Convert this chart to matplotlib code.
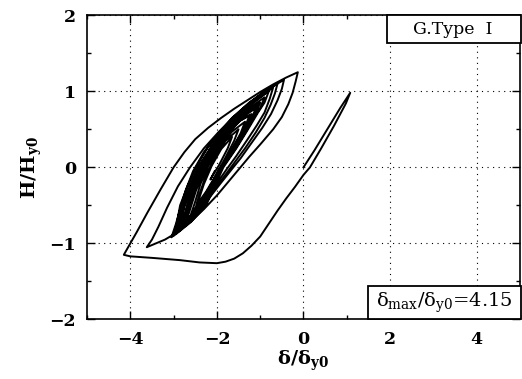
import matplotlib
matplotlib.use("Agg")
import matplotlib.pyplot as plt
from matplotlib.patches import Rectangle
from matplotlib.ticker import MultipleLocator

plt.rcParams['font.family'] = ['DejaVu Serif']
plt.rcParams['mathtext.fontset'] = 'dejavuserif'

# ---- data ----
# initial elastic loop from origin
origin_x = [0.0, 0.25, 0.55, 0.85, 1.08, 0.98, 0.7, 0.4, 0.15, 0.0]
origin_y = [0.0, 0.22, 0.5, 0.78, 0.98, 0.84, 0.54, 0.24, 0.0, -0.1]
# large excursion to the negative side
descent_x = [-0.2, -0.4, -0.6, -0.8, -1.0, -1.2, -1.4, -1.6, -1.8, -2.0, -2.4, -2.85,
             -3.5, -4.0, -4.15]
descent_y = [-0.26, -0.41, -0.57, -0.74, -0.91, -1.03, -1.13, -1.2, -1.24, -1.26, -1.25,
             -1.22, -1.19, -1.17, -1.15]
# outermost up branch to the peak
outer_up_x = [-4.05, -3.85, -3.61, -3.3, -3.0, -2.75, -2.5, -2.2, -1.9, -1.6, -1.3,
              -1.0, -0.7, -0.4, -0.13]
outer_up_y = [-1.05, -0.85, -0.6, -0.29, 0.0, 0.2, 0.37, 0.52, 0.65, 0.77, 0.88,
              0.99, 1.09, 1.18, 1.25]
# outermost down branch
outer_dn_x = [-0.18, -0.25, -0.35, -0.5, -0.7, -1.0, -1.25, -1.5, -1.75, -2.0, -2.3,
              -2.6, -2.9, -3.2, -3.45, -3.62]
outer_dn_y = [1.13, 0.98, 0.83, 0.66, 0.5, 0.3, 0.14, -0.03, -0.2, -0.37, -0.55,
              -0.71, -0.85, -0.95, -1.01, -1.05]
# second to fourth loops
loop2_x = [-3.5, -3.35, -3.15, -2.9, -2.62, -2.3, -1.95, -1.6, -1.25, -0.9, -0.6, -0.45,
           -0.5, -0.6, -0.75, -0.95, -1.2, -1.45, -1.62, -1.9, -2.2, -2.5, -2.8, -3.05]
loop2_y = [-0.95, -0.78, -0.53, -0.25, 0.0, 0.25, 0.47, 0.67, 0.85, 0.99, 1.1, 1.15,
           1.03, 0.88, 0.7, 0.52, 0.32, 0.12, 0.0, -0.2, -0.42, -0.62, -0.8, -0.92]
loop3_x = [-2.95, -2.85, -2.72, -2.55, -2.3, -2.0, -1.65, -1.25, -0.9, -0.6,
           -0.66, -0.76, -0.9, -1.1, -1.35, -1.7, -2.0, -2.3, -2.6, -2.95]
loop3_y = [-0.75, -0.55, -0.3, -0.05, 0.2, 0.42, 0.65, 0.85, 1.0, 1.1,
           0.97, 0.82, 0.65, 0.46, 0.25, -0.02, -0.25, -0.48, -0.68, -0.87]
loop4_x = [-2.85, -2.75, -2.6, -2.42, -2.15, -1.85, -1.5, -1.1, -0.7,
           -0.78, -0.9, -1.08, -1.3, -1.55, -1.78, -2.05, -2.35, -2.65, -3.0]
loop4_y = [-0.7, -0.5, -0.25, 0.0, 0.25, 0.47, 0.68, 0.88, 1.05,
           0.9, 0.72, 0.55, 0.36, 0.15, -0.03, -0.25, -0.5, -0.7, -0.9]
# dense inner loops
loop5_x = [-2.92, -2.85, -2.68, -2.48, -2.22, -1.85, -1.4, -0.8,
           -0.9, -1.05, -1.28, -1.55, -1.85, -2.05, -2.25, -2.6, -2.95]
loop5_y = [-0.72, -0.5, -0.25, 0.0, 0.25, 0.5, 0.75, 1.0,
           0.85, 0.72, 0.5, 0.25, 0.0, -0.25, -0.5, -0.72, -0.88]
loop6_x = [-2.88, -2.8, -2.63, -2.43, -2.15, -1.8, -1.4, -0.9,
           -1.0, -1.15, -1.35, -1.6, -1.9, -2.1, -2.3, -2.6, -2.9]
loop6_y = [-0.7, -0.5, -0.25, 0.0, 0.25, 0.5, 0.72, 0.92,
           0.78, 0.65, 0.45, 0.22, -0.02, -0.25, -0.5, -0.7, -0.85]
loop7_x = [-2.82, -2.75, -2.58, -2.38, -2.1, -1.75, -1.4, -1.0,
           -1.1, -1.25, -1.42, -1.65, -1.95, -2.15, -2.35, -2.6, -2.85]
loop7_y = [-0.68, -0.5, -0.25, 0.0, 0.25, 0.5, 0.7, 0.85,
           0.72, 0.58, 0.42, 0.2, -0.03, -0.26, -0.5, -0.68, -0.8]
loop8_x = [-2.75, -2.68, -2.52, -2.32, -2.05, -1.7, -1.38, -1.05,
           -1.15, -1.3, -1.48, -1.72, -1.98, -2.2, -2.42, -2.8]
loop8_y = [-0.62, -0.47, -0.23, 0.02, 0.27, 0.52, 0.7, 0.8,
           0.67, 0.53, 0.37, 0.15, -0.06, -0.3, -0.53, -0.75]
loop9_x = [-2.7, -2.6, -2.45, -2.25, -2.0, -1.68, -1.4, -1.1,
           -1.2, -1.35, -1.55, -1.8, -2.05, -2.28, -2.5, -2.75]
loop9_y = [-0.58, -0.4, -0.17, 0.06, 0.28, 0.5, 0.66, 0.78,
           0.64, 0.5, 0.3, 0.08, -0.14, -0.38, -0.58, -0.72]
loop10_x = [-2.65, -2.55, -2.4, -2.2, -1.95, -1.65, -1.45, -1.2,
            -1.3, -1.45, -1.65, -1.9, -2.12, -2.35, -2.7]
loop10_y = [-0.55, -0.38, -0.15, 0.08, 0.3, 0.5, 0.62, 0.7,
            0.57, 0.42, 0.22, 0.0, -0.22, -0.46, -0.7]
loop11_x = [-2.6, -2.48, -2.3, -2.08, -1.8, -1.5, -1.25,
            -1.35, -1.5, -1.72, -1.98, -2.2, -2.6]
loop11_y = [-0.52, -0.3, -0.06, 0.17, 0.4, 0.6, 0.68,
            0.53, 0.38, 0.16, -0.07, -0.3, -0.62]
loop12_x = [-2.5, -2.38, -2.2, -1.95, -1.65, -1.35,
            -1.45, -1.62, -1.85, -2.08, -2.3, -2.5]
loop12_y = [-0.45, -0.22, 0.02, 0.26, 0.47, 0.6,
            0.45, 0.27, 0.04, -0.18, -0.38, -0.55]
loop13_x = [-2.4, -2.25, -2.05, -1.8, -1.5,
            -1.6, -1.8, -2.02, -2.25, -2.45,
            -2.3, -2.12, -1.9, -1.65,
            -1.75, -1.95, -2.15, -2.05]
loop13_y = [-0.35, -0.1, 0.13, 0.35, 0.5,
            0.35, 0.13, -0.1, -0.32, -0.48,
            -0.22, 0.02, 0.24, 0.4,
            0.25, 0.03, -0.16, -0.05]

segments_x = [origin_x, descent_x, outer_up_x, outer_dn_x, loop2_x, loop3_x, loop4_x,
              loop5_x, loop6_x, loop7_x, loop8_x, loop9_x, loop10_x, loop11_x,
              loop12_x, loop13_x]
segments_y = [origin_y, descent_y, outer_up_y, outer_dn_y, loop2_y, loop3_y, loop4_y,
              loop5_y, loop6_y, loop7_y, loop8_y, loop9_y, loop10_y, loop11_y,
              loop12_y, loop13_y]

path_x = [v for s in segments_x for v in s]
path_y = [v for s in segments_y for v in s]

x_ticks = [-4, -2, 0, 2, 4]
x_tick_labels = ['\u22124', '\u22122', '0', '2', '4']
y_ticks = [-2, -1, 0, 1, 2]
y_tick_labels = ['\u22122', '\u22121', '0', '1', '2']
label_type = "G.Type  I"
label_ratio = r"$\mathrm{\delta_{max}/\delta_{y0}}$=4.15"

# ---- figure ----
fig = plt.figure(figsize=(5.22, 3.79), dpi=100)
ax = fig.add_axes([0.1667, 0.157, 0.8293, 0.803])

ax.plot(path_x, path_y, color='black', lw=1.4, solid_joinstyle='round')

ax.set_xlim(-5, 5)
ax.set_ylim(-2, 2)
ax.set_xticks(x_ticks)
ax.set_yticks(y_ticks)
ax.set_xticklabels(x_tick_labels, fontweight='bold')
ax.set_yticklabels(y_tick_labels, fontweight='bold')
ax.xaxis.set_minor_locator(MultipleLocator(1))
ax.yaxis.set_minor_locator(MultipleLocator(0.5))
ax.tick_params(which='both', direction='in', top=True, right=True, width=1.0)
ax.tick_params(which='major', length=6, labelsize=12.5)
ax.tick_params(axis='x', which='major', pad=8)
ax.tick_params(axis='y', which='major', pad=8)
ax.tick_params(which='minor', length=3)

ax.grid(True, which='major', linestyle=(0, (1, 4)), color='black', lw=0.8)
for sp in ax.spines.values():
    sp.set_linewidth(1.2)

ax.set_xlabel(r"$\mathbf{\delta/\delta_{y0}}$", fontsize=14, labelpad=1)
ax.set_ylabel(r"$\mathbf{H/H_{y0}}$", fontsize=14, labelpad=4)

# annotation boxes
ax.add_patch(Rectangle((0.692, 0.907), 0.31, 0.093, transform=ax.transAxes,
                       facecolor='white', edgecolor='black', lw=1.3, zorder=5, clip_on=False))
ax.text(0.846, 0.953, label_type, transform=ax.transAxes, ha='center', va='center',
        fontsize=12.5, zorder=6)
ax.add_patch(Rectangle((0.649, 0.0), 0.353, 0.109, transform=ax.transAxes,
                       facecolor='white', edgecolor='black', lw=1.3, zorder=5, clip_on=False))
ax.text(0.825, 0.055, label_ratio, transform=ax.transAxes, ha='center', va='center',
        fontsize=14, zorder=6)

fig.savefig("out.png", dpi=100)
